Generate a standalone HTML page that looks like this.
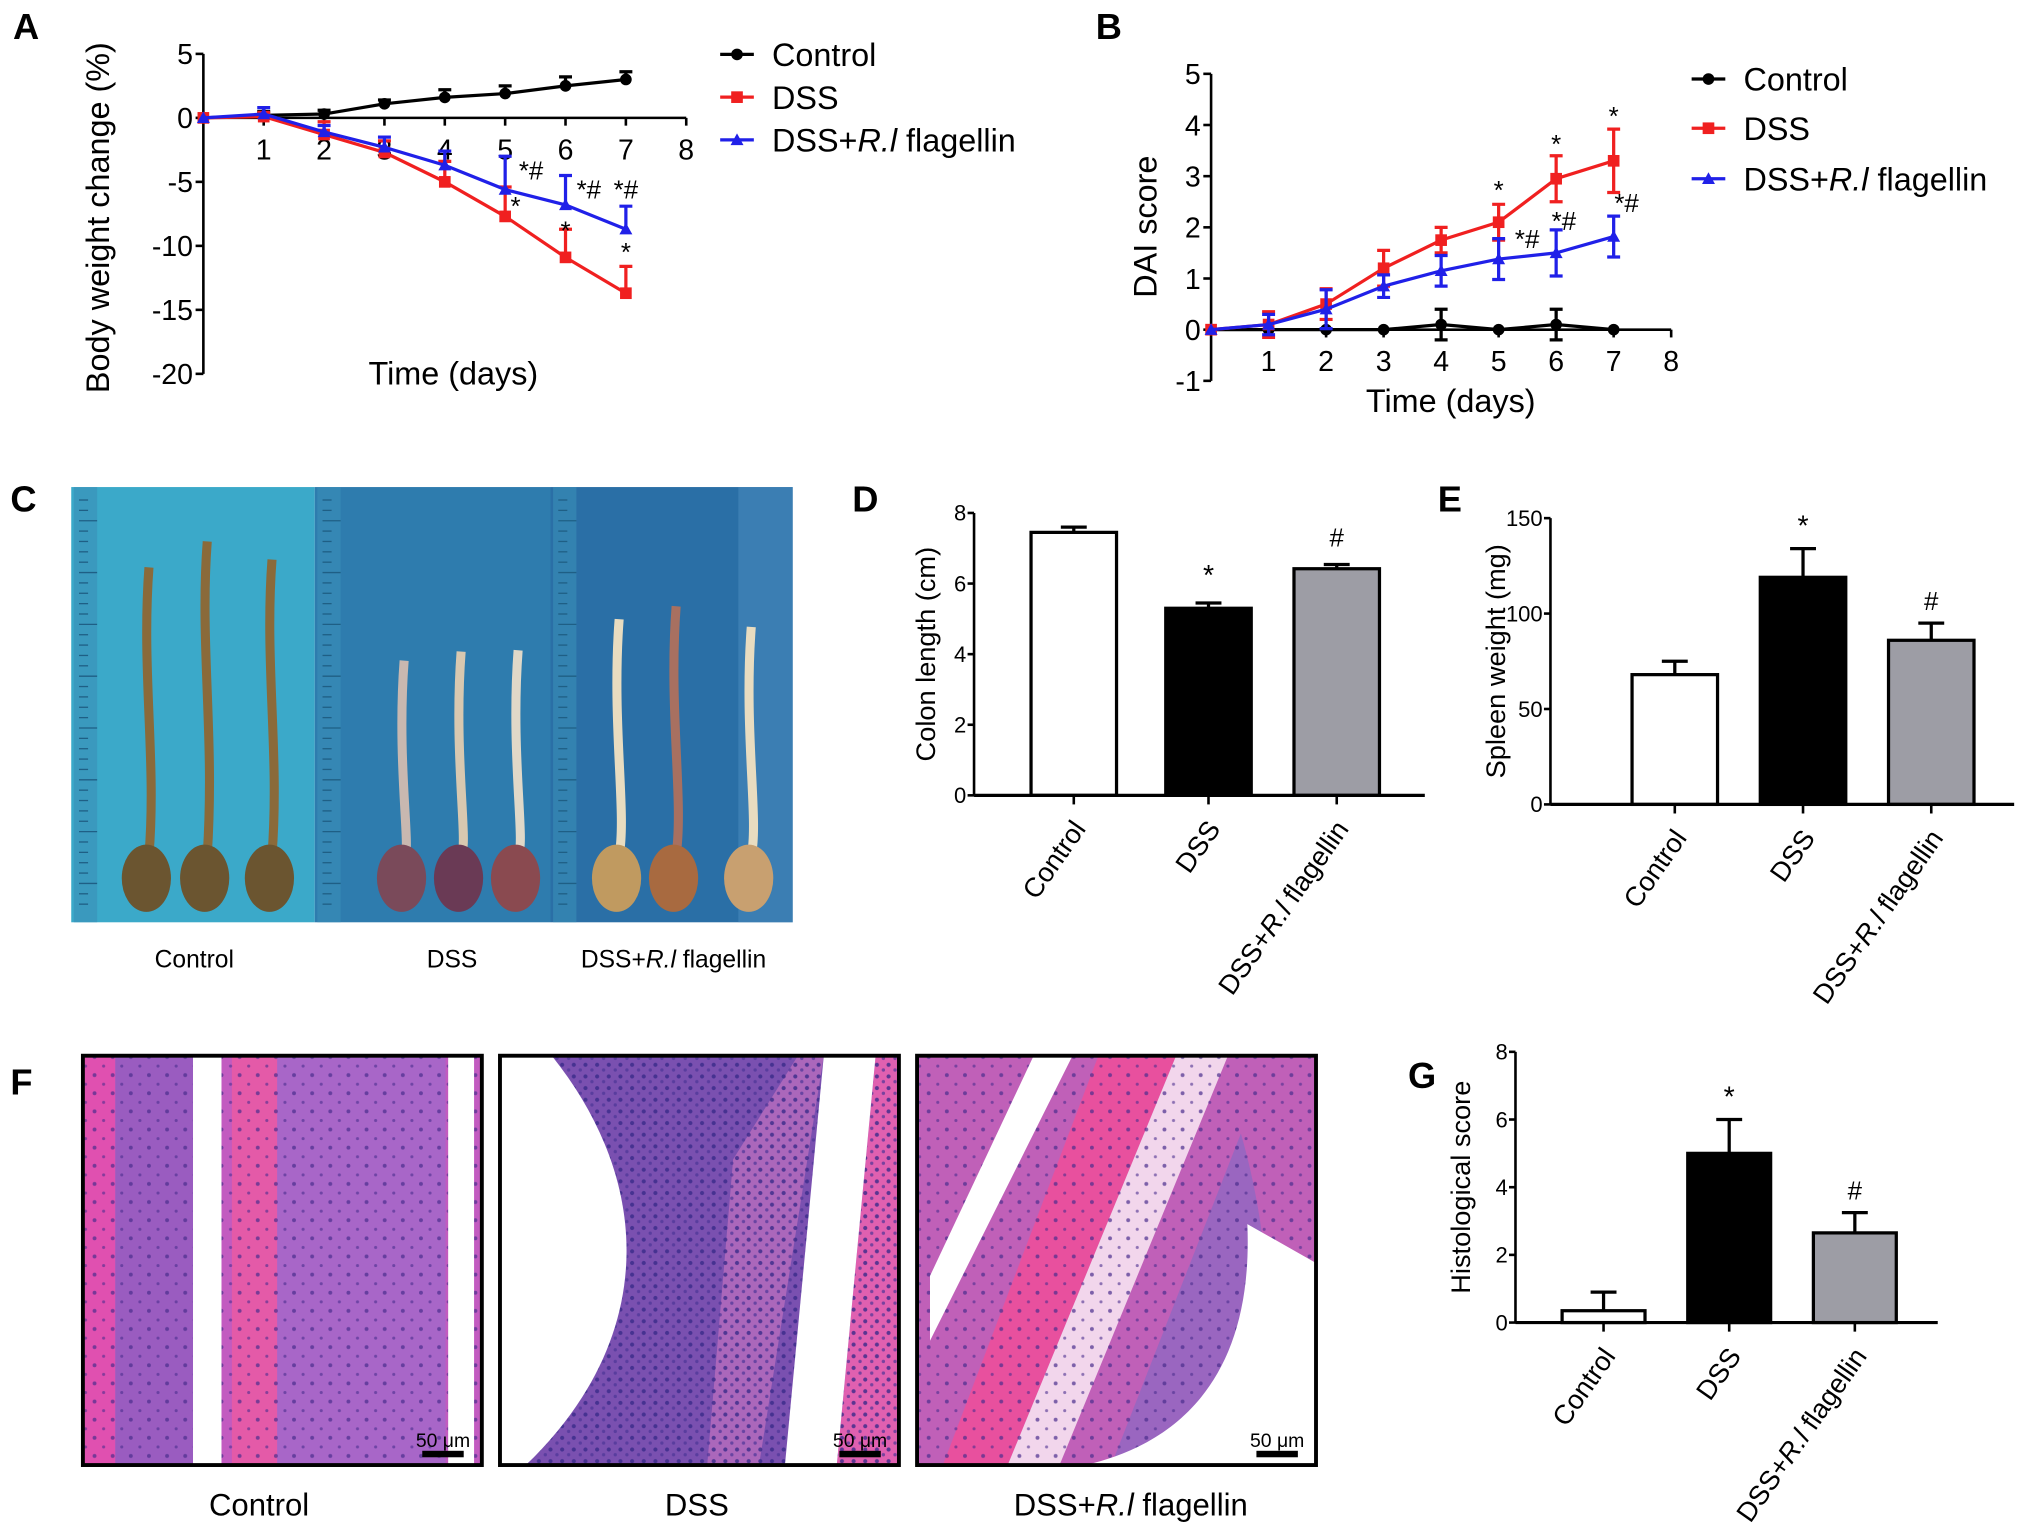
<!DOCTYPE html>
<html><head><meta charset="utf-8">
<style>
html,body{margin:0;padding:0;background:#fff;}
svg{display:block;font-family:"Liberation Sans",Arial,sans-serif;}
</style></head>
<body>
<svg id="fig" width="2031" height="1535" viewBox="0 0 1568 1185" preserveAspectRatio="none" xmlns="http://www.w3.org/2000/svg">
<defs>
<pattern id="nuc" width="9" height="9" patternUnits="userSpaceOnUse">
<circle cx="2" cy="3" r="1.6" fill="#3a2a8a" opacity="0.8"/><circle cx="7" cy="7" r="1.3" fill="#4b3598" opacity="0.7"/>
</pattern>
<pattern id="nuc2" width="14" height="14" patternUnits="userSpaceOnUse">
<circle cx="3" cy="4" r="1.5" fill="#4a2d8e" opacity="0.7"/><circle cx="10" cy="11" r="1.2" fill="#4a2d8e" opacity="0.6"/>
</pattern>
</defs>
<g id="root"></g>
</svg>
<script>
// ---------- Panel A data ----------
const daysA = [0,1,2,3,4,5,6,7];
const aControl = [0,0.2,0.3,1.1,1.6,1.9,2.5,3.0];
const aControlErr = [0,0.3,0.3,0.3,0.6,0.6,0.7,0.6];
const aDSS = [0,0.1,-1.3,-2.7,-5.0,-7.7,-10.9,-13.7];
const aDSSErr = [0,0.3,1.0,0.9,1.6,2.3,2.2,2.1];
const aFlag = [0,0.3,-1.1,-2.3,-3.7,-5.6,-6.8,-8.7];
const aFlagErr = [0,0.5,0.5,0.8,1.1,2.6,2.3,1.8];
const aTicksY = [5,0,-5,-10,-15,-20];
const aTicksX = [1,2,3,4,5,6,7,8];
// ---------- Panel B data ----------
const bControl = [0,0,0,0,0.1,0,0.1,0];
const bControlErr = [0,0,0,0,0.3,0,0.3,0];
const bDSS = [0,0.1,0.5,1.2,1.75,2.1,2.95,3.3];
const bDSSErr = [0,0.25,0.3,0.35,0.25,0.35,0.45,0.62];
const bFlag = [0,0.1,0.4,0.85,1.15,1.38,1.5,1.82];
const bFlagErr = [0,0.2,0.38,0.22,0.3,0.4,0.45,0.4];
const bTicksY = [5,4,3,2,1,0,-1];
// ---------- Bar panels ----------
const groups = ["Control","DSS","DSS+R.l flagellin"];
const dValues = [7.45,5.3,6.42];
const dErr = [0.15,0.15,0.12];
const dTicks = [0,2,4,6,8];
const eValues = [68,119,86];
const eErr = [7,15,9];
const eTicks = [0,50,100,150];
const gValues = [0.35,5.0,2.65];
const gErr = [0.55,1.0,0.6];
const gTicks = [0,2,4,6,8];

const NS="http://www.w3.org/2000/svg";
const root=document.getElementById('root');
function mk(tag,attrs,parent){const e=document.createElementNS(NS,tag);for(const k in attrs)e.setAttribute(k,attrs[k]);(parent||root).appendChild(e);return e;}
function txt(s,attrs,parent){const t=mk('text',attrs,parent);t.textContent=s;return t;}

// panel letters
[["A",10,30],["B",846,30],["C",8,395],["D",658,395],["E",1110,395],["F",8,845],["G",1087,840]].forEach(p=>{
  const t=txt(p[0],{x:p[1],y:p[2],'font-size':28,'font-weight':'bold'});
  
  
});

// ---------- Line chart builder ----------
function lineChart(cfg){
  const g=mk('g',{});
  
  
  const xs=d=>cfg.x0+d*cfg.dx;
  const ys=v=>cfg.y0-v*cfg.dy;
  const ya=mk('line',{x1:cfg.x0,x2:cfg.x0,y1:ys(cfg.yTicks[0]),y2:ys(cfg.yTicks[cfg.yTicks.length-1]),stroke:'#000','stroke-width':2},g);
  
  
  cfg.yTicks.forEach(v=>{
    mk('line',{x1:cfg.x0-6,x2:cfg.x0,y1:ys(v),y2:ys(v),stroke:'#000','stroke-width':2},g);
    const t=txt(String(v),{x:cfg.x0-8,y:ys(v)+8,'font-size':22,'text-anchor':'end'},g);
    
    
  });
  const xa=mk('line',{x1:cfg.x0,x2:xs(8),y1:ys(0),y2:ys(0),stroke:'#000','stroke-width':2},g);
  
  
  aTicksX.forEach(d=>{
    mk('line',{x1:xs(d),x2:xs(d),y1:ys(0),y2:ys(0)+6,stroke:'#000','stroke-width':2},g);
    const t=txt(String(d),{x:xs(d),y:ys(0)+32,'font-size':22,'text-anchor':'middle'},g);
    
    
  });
  const xt=txt("Time (days)",{x:cfg.xtx,y:cfg.xty,'font-size':25,'text-anchor':'middle'},g);
  
  
  const yt=txt(cfg.ytitle,{x:0,y:0,'font-size':25,'text-anchor':'middle',transform:`translate(${cfg.ytx},${cfg.yty}) rotate(-90)`},g);
  
  
  cfg.series.forEach(s=>{
    const sg=mk('g',{},g);
    
    
    s.vals.forEach((v,i)=>{
      if(!s.err[i])return;
      const up=ys(v+s.err[i]), dn=s.both?ys(v-s.err[i]):ys(v);
      const eb=mk('path',{d:`M${xs(i)},${up}V${dn}M${xs(i)-5},${up}H${xs(i)+5}`+(s.both?`M${xs(i)-5},${dn}H${xs(i)+5}`:''),stroke:s.color,'stroke-width':2.5,fill:'none'},sg);
      
      
    });
    const pl=mk('polyline',{points:s.vals.map((v,i)=>xs(i)+','+ys(v)).join(' '),fill:'none',stroke:s.color,'stroke-width':2.5},sg);
    
    
    s.vals.forEach((v,i)=>{
      let m;
      if(s.shape==='c')m=mk('circle',{cx:xs(i),cy:ys(v),r:4.5,fill:s.color},sg);
      else if(s.shape==='s')m=mk('rect',{x:xs(i)-4.5,y:ys(v)-4.5,width:9,height:9,fill:s.color},sg);
      else m=mk('path',{d:`M${xs(i)},${ys(v)-5}L${xs(i)+5},${ys(v)+4}L${xs(i)-5},${ys(v)+4}Z`,fill:s.color},sg);
      
      
    });
  });
  const lg=mk('g',{},g);
  
  
  cfg.series.forEach((s,k)=>{
    const y=cfg.legY[k];
    mk('line',{x1:cfg.legX,x2:cfg.legX+26,y1:y,y2:y,stroke:s.color,'stroke-width':2.5},lg);
    if(s.shape==='c')mk('circle',{cx:cfg.legX+13,cy:y,r:4.5,fill:s.color},lg);
    else if(s.shape==='s')mk('rect',{x:cfg.legX+8.5,y:y-4.5,width:9,height:9,fill:s.color},lg);
    else mk('path',{d:`M${cfg.legX+13},${y-5}L${cfg.legX+18},${y+4}L${cfg.legX+8},${y+4}Z`,fill:s.color},lg);
    const t=mk('text',{x:cfg.legX+40,y:y+9,'font-size':25},lg);
    
    
    if(s.label.indexOf('R.l')>=0){t.innerHTML='DSS+<tspan font-style="italic">R.l</tspan> flagellin';}
    else t.textContent=s.label;
  });
  cfg.anno.forEach(a=>{
    const t=txt(a[2],{x:xs(a[0])+a[3],y:ys(a[1]),'font-size':20,'text-anchor':'middle'},g);
    
    
  });
}

lineChart({name:'panel-a-body-weight-chart',x0:157,dx:46.6,y0:91,dy:9.88,yTicks:aTicksY,
  xtx:350,xty:297,ytitle:'Body weight change (%)',ytx:84,yty:168,legX:556,legY:[42,75,108],
  series:[
    {key:'control',label:'Control',color:'#000',shape:'c',vals:aControl,err:aControlErr,both:false},
    {key:'dss',label:'DSS',color:'#f02020',shape:'s',vals:aDSS,err:aDSSErr,both:false},
    {key:'dss-rl',label:'DSS+R.l flagellin',color:'#2020e8',shape:'t',vals:aFlag,err:aFlagErr,both:false}],
  anno:[[5,-4.8,'*#',20],[6,-6.3,'*#',18],[7,-6.3,'*#',0],[5,-7.6,'*',8],[6,-9.5,'*',0],[7,-11.2,'*',0]]});

lineChart({name:'panel-b-dai-score-chart',x0:935,dx:44.4,y0:254.5,dy:39.5,yTicks:bTicksY,
  xtx:1120,xty:318,ytitle:'DAI score',ytx:893,yty:175,legX:1306,legY:[61,99,138],
  series:[
    {key:'control',label:'Control',color:'#000',shape:'c',vals:bControl,err:bControlErr,both:true},
    {key:'dss',label:'DSS',color:'#f02020',shape:'s',vals:bDSS,err:bDSSErr,both:true},
    {key:'dss-rl',label:'DSS+R.l flagellin',color:'#2020e8',shape:'t',vals:bFlag,err:bFlagErr,both:true}],
  anno:[[5,2.55,'*',0],[6,3.45,'*',0],[7,4.0,'*',0],[5,1.6,'*#',22],[6,1.95,'*#',6],[7,2.3,'*#',10]]});

// ---------- Bar chart builder ----------
function barChart(cfg){
  const g=mk('g',{});
  
  
  const top=cfg.yTicks[cfg.yTicks.length-1];
  const ys=v=>cfg.y0-v*(cfg.y0-cfg.yTop)/top;
  const ya=mk('line',{x1:cfg.x0,x2:cfg.x0,y1:cfg.yTop,y2:cfg.y0,stroke:'#000','stroke-width':2},g);
  
  
  cfg.yTicks.forEach(v=>{
    mk('line',{x1:cfg.x0-5,x2:cfg.x0,y1:ys(v),y2:ys(v),stroke:'#000','stroke-width':2},g);
    const t=txt(String(v),{x:cfg.x0-6,y:ys(v)+6,'font-size':17,'text-anchor':'end'},g);
    
    
  });
  const yt=txt(cfg.ytitle,{x:0,y:0,'font-size':21,'text-anchor':'middle',transform:`translate(${cfg.ytx},${(cfg.yTop+cfg.y0)/2}) rotate(-90)`},g);
  
  
  const fills=['#fff','#000','#9d9da5'];
  cfg.vals.forEach((v,i)=>{
    const cx=cfg.cx[i];
    const eb=mk('path',{d:`M${cx},${ys(v)}V${ys(v+cfg.err[i])}M${cx-10},${ys(v+cfg.err[i])}H${cx+10}`,stroke:'#000','stroke-width':2.5,fill:'none'},g);
    
    
    const b=mk('rect',{x:cx-cfg.bw/2,y:ys(v),width:cfg.bw,height:cfg.y0-ys(v),fill:fills[i],stroke:'#000','stroke-width':2.5},g);
    
    
    mk('line',{x1:cx,x2:cx,y1:cfg.y0,y2:cfg.y0+7,stroke:'#000','stroke-width':2},g);
    const t=mk('text',{x:0,y:0,'font-size':21,'text-anchor':'end',transform:`translate(${cx+10},${cfg.y0+26}) rotate(-55)`},g);
    
    
    if(i===2)t.innerHTML='DSS+<tspan font-style="italic">R.l</tspan> flagellin';else t.textContent=groups[i];
    if(cfg.marks[i]){
      const m=txt(cfg.marks[i],{x:cx,y:ys(v+cfg.err[i])-cfg.markGap,'font-size':cfg.marks[i]==='#'?20:22,'text-anchor':'middle'},g);
      
      
    }
  });
  const xa=mk('line',{x1:cfg.x0,x2:cfg.xEnd,y1:cfg.y0,y2:cfg.y0,stroke:'#000','stroke-width':2.5},g);
  
  
}
barChart({name:'panel-d-colon-length-chart',x0:752,y0:614,yTop:396,xEnd:1100,yTicks:dTicks,vals:dValues,err:dErr,cx:[829,933,1032],bw:66,ytitle:'Colon length (cm)',ytx:722,marks:['','*','#'],markGap:14});
barChart({name:'panel-e-spleen-weight-chart',x0:1197,y0:621,yTop:400,xEnd:1555,yTicks:eTicks,vals:eValues,err:eErr,cx:[1293,1392,1491],bw:66,ytitle:'Spleen weight (mg)',ytx:1162,marks:['','*','#'],markGap:10});
barChart({name:'panel-g-histological-score-chart',x0:1170,y0:1021,yTop:812,xEnd:1496,yTicks:gTicks,vals:gValues,err:gErr,cx:[1238,1335,1432],bw:64,ytitle:'Histological score',ytx:1135,marks:['','*','#'],markGap:10});

// ---------- Panel C photo ----------
(function(){
  const g=mk('g',{});
  
  
  const bgs=[[55,188,'#3ba9c9'],[243,182,'#2e7cae'],[425,187,'#2a6fa6']];
  bgs.forEach(b=>{
    mk('rect',{x:b[0],y:376,width:b[1],height:336,fill:b[2]},g);
    mk('rect',{x:b[0]+2,y:376,width:18,height:336,fill:'#3a90b8',opacity:0.6},g);
    for(let y=386;y<705;y+=8)mk('line',{x1:b[0]+6,x2:b[0]+(y%40<8?20:13),y1:y,y2:y,stroke:'#1f5f85','stroke-width':1},g);
  });
  mk('rect',{x:570,y:376,width:42,height:336,fill:'#4b8ec0',opacity:0.5},g);
  const colons=[[115,438,'#8a6a3a','#6b5530'],[160,418,'#8a6a3a','#6b5530'],[210,432,'#8a6a3a','#6b5530'],
    [312,510,'#c8b8b0','#7a4a5a'],[356,503,'#d8c8b0','#6a3a55'],[400,502,'#e0d8c8','#8a4a50'],
    [478,478,'#e8dcc0','#c09a60'],[522,468,'#a87060','#a86a40'],[580,484,'#e8dcc0','#c8a070']];
  colons.forEach(c=>{
    mk('path',{d:`M${c[0]},${c[1]} C${c[0]-6},${c[1]+80} ${c[0]+6},${c[1]+150} ${c[0]},660`,stroke:c[2],'stroke-width':7,fill:'none'},g);
    mk('ellipse',{cx:c[0]-2,cy:678,rx:19,ry:26,fill:c[3]},g);
  });
  [["Control",150],["DSS",349],["DSS+R.l flagellin",520]].forEach(l=>{
    const t=mk('text',{x:l[1],y:747,'font-size':19,'text-anchor':'middle'});
    
    
    if(l[0].indexOf('R.l')>=0)t.innerHTML='DSS+<tspan font-style="italic">R.l</tspan> flagellin';else t.textContent=l[0];
  });
})();

// ---------- Panel F histology ----------
(function(){
  const boxes=[64,386,708];
  const names=['control','dss','dss-rl'];
  boxes.forEach((x,i)=>{
    const g=mk('g',{});
    
    
    const y=815,w=308,h=316;
    const whites=[];
    mk('rect',{x:x,y:y,width:w,height:h,fill:'#c25bc0'},g);
    if(i===0){
      mk('rect',{x:x,y:y,width:25,height:h,fill:'#e050b0'},g);
      mk('rect',{x:x+25,y:y,width:60,height:h,fill:'#9a5cc0'},g);
      mk('rect',{x:x+115,y:y,width:35,height:h,fill:'#e45aa8'},g);
      mk('rect',{x:x+150,y:y,width:130,height:h,fill:'#a866c8'},g);
      whites.push(['rect',{x:x+85,y:y,width:22,height:h,fill:'#fff'}]);
      whites.push(['rect',{x:x+282,y:y,width:20,height:h,fill:'#fff'}]);
    } else if(i===1){
      mk('rect',{x:x,y:y,width:w,height:h,fill:'#7a50b0'},g);
      mk('path',{d:`M${x+290},${y}H${x+w}V${y+h}H${x+260}Z`,fill:'#e060b0'},g);
      mk('path',{d:`M${x+180},${y+80}L${x+230},${y}L${x+250},${y}L${x+200},${y+h}H${x+160}Z`,fill:'#c070c0',opacity:0.7},g);
      whites.push(['path',{d:`M${x},${y}H${x+40}C${x+120},${y+100} ${x+120},${y+220} ${x+20},${y+h}H${x}Z`,fill:'#fff'}]);
      whites.push(['path',{d:`M${x+250},${y}H${x+290}L${x+260},${y+h}H${x+220}Z`,fill:'#fff'}]);
    } else {
      mk('rect',{x:x,y:y,width:w,height:h,fill:'#c060b8'},g);
      mk('path',{d:`M${x+140},${y}H${x+200}L${x+70},${y+h}H${x+20}Z`,fill:'#e8509e'},g);
      mk('path',{d:`M${x+200},${y}H${x+240}L${x+110},${y+h}H${x+70}Z`,fill:'#f2d6ec'},g);
      mk('path',{d:`M${x+250},${y+60}C${x+290},${y+200} ${x+250},${y+260} ${x+w},${y+230}V${y+h}H${x+150}Z`,fill:'#9a66c0'},g);
      whites.push(['path',{d:`M${x+90},${y}H${x+120}L${x+10},${y+220}V${y+170}Z`,fill:'#fff'}]);
      whites.push(['path',{d:`M${x+255},${y+130}C${x+260},${y+250} ${x+200},${y+300} ${x+130},${y+h}H${x+w}V${y+160}Z`,fill:'#fff'}]);
    }
    mk('rect',{x:x,y:y,width:w,height:h,fill:i===1?'url(#nuc)':'url(#nuc2)'},g);
    whites.forEach(wv=>mk(wv[0],wv[1],g));
    mk('rect',{x:x,y:y,width:w,height:h,fill:'none',stroke:'#000','stroke-width':3},g);
    const sb=txt('50 μm',{x:x+w-30,y:y+h-14,'font-size':15,'text-anchor':'middle'},g);
    
    
    mk('rect',{x:x+w-46,y:y+h-11,width:32,height:5,fill:'#000'},g);
  });
  [["Control",200],["DSS",538],["DSS+R.l flagellin",873]].forEach(l=>{
    const t=mk('text',{x:l[1],y:1170,'font-size':24,'text-anchor':'middle'});
    
    
    if(l[0].indexOf('R.l')>=0)t.innerHTML='DSS+<tspan font-style="italic">R.l</tspan> flagellin';else t.textContent=l[0];
  });
})();
</script>
</body></html>
